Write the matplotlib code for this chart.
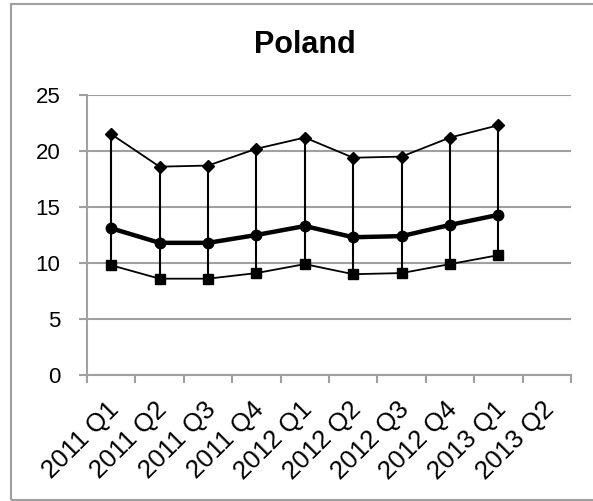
import matplotlib.pyplot as plt
from matplotlib.patches import Rectangle

quarters = ["2011 Q1", "2011 Q2", "2011 Q3", "2011 Q4", "2012 Q1",
            "2012 Q2", "2012 Q3", "2012 Q4", "2013 Q1", "2013 Q2"]
high = [21.5, 18.6, 18.7, 20.2, 21.2, 19.4, 19.5, 21.2, 22.3]
mid = [13.1, 11.8, 11.8, 12.5, 13.3, 12.3, 12.4, 13.4, 14.3]
low = [9.8, 8.6, 8.6, 9.1, 9.9, 9.0, 9.1, 9.9, 10.7]

plt.rcParams["font.family"] = ["Liberation Sans", "DejaVu Sans"]

fig = plt.figure(figsize=(5.93, 5.01), dpi=100)
ax = fig.add_axes([87 / 593, 1 - 375 / 501, (571 - 87) / 593, (375 - 95) / 501])

x = [i + 0.5 for i in range(len(high))]

# high-low lines
ax.vlines(x, low, high, color="black", lw=1.5, zorder=3)
ax.plot(x, high, color="black", lw=1.3, marker="D", ms=6, zorder=4)
ax.plot(x, mid, color="black", lw=3.2, marker="o", ms=7.5, zorder=5)
ax.plot(x, low, color="black", lw=1.3, marker="s", ms=7, zorder=4)

ax.set_xlim(0, len(quarters))
ax.set_ylim(0, 25)
ax.set_yticks(range(0, 26, 5))
ax.set_xticks(range(len(quarters) + 1))
ax.set_xticklabels([])
for i, q in enumerate(quarters):
    ax.text(i + 0.4, -2.0, q, rotation=45, ha="right", va="top",
            rotation_mode="anchor", fontsize=18.5, clip_on=False)

ax.grid(axis="y", color="#a0a0a0", lw=1.5)
ax.set_axisbelow(True)
for s in ["top", "right"]:
    ax.spines[s].set_visible(False)
for s in ["left", "bottom"]:
    ax.spines[s].set_color("#a0a0a0")
    ax.spines[s].set_linewidth(1.5)
ax.tick_params(axis="both", color="#a0a0a0", width=1.5, length=6, labelsize=16)
ax.tick_params(axis="y", pad=13)

fig.text(305 / 593, 1 - 45 / 501, "Poland", ha="center", va="center",
         fontsize=22, fontweight="bold")

fig.patches.append(Rectangle((11 / 593, 1 / 501), 1.0, 1 - 5 / 501,
                             transform=fig.transFigure, fill=False,
                             edgecolor="#a0a0a0", lw=1.5))

fig.savefig("out.png", dpi=100)
